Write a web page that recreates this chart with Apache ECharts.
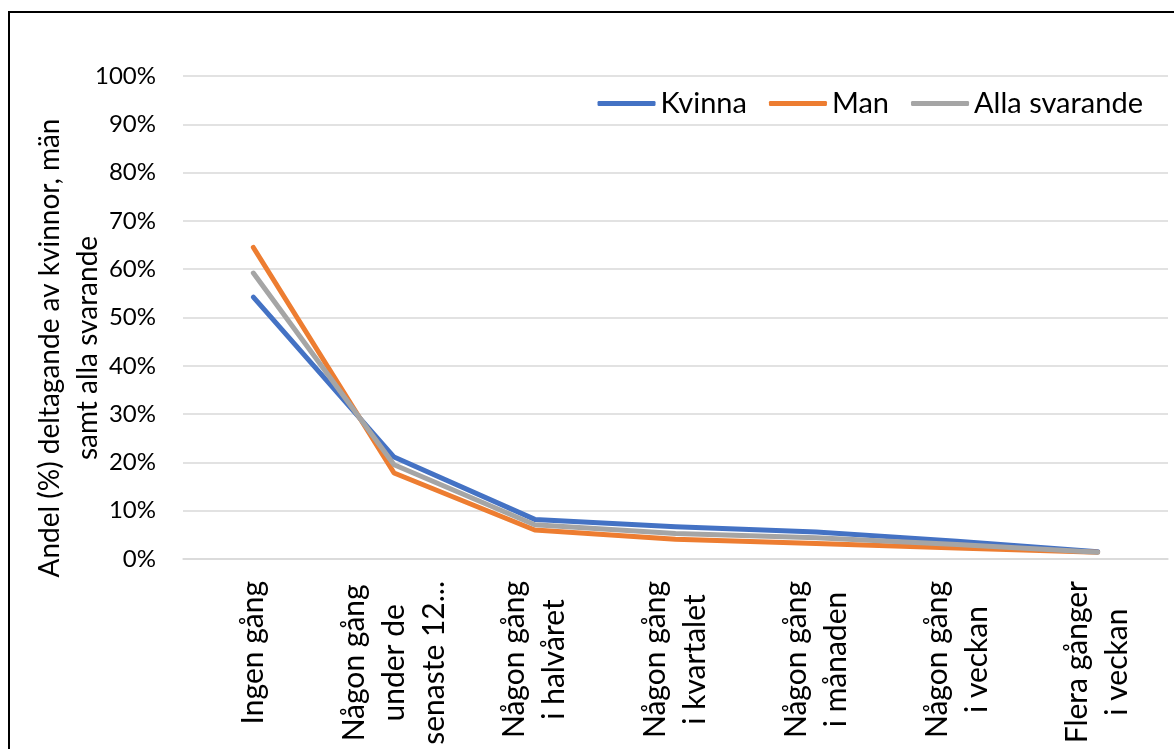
<!DOCTYPE html>
<html>
<head>
<meta charset="utf-8">
<script src="https://cdn.jsdelivr.net/npm/echarts@6/dist/echarts.min.js"></script>
<style>
html,body{margin:0;padding:0;background:#fff;}
#c{width:1174px;height:749px;}
</style>
</head>
<body>
<div id="c"></div>
<script>
const categories = [
  "Ingen gång",
  "Någon gång\nunder de\nsenaste 12...",
  "Någon gång\ni halvåret",
  "Någon gång\ni kvartalet",
  "Någon gång\ni månaden",
  "Någon gång\ni veckan",
  "Flera gånger\ni veckan"
];
const kvinna = [54.2, 21.1, 8.2, 6.7, 5.6, 3.7, 1.5];
const man    = [64.5, 17.8, 6.0, 4.1, 3.2, 2.3, 1.4];
const alla   = [59.2, 19.5, 7.1, 5.3, 4.4, 3.0, 1.4];
const seriesNames = ["Kvinna", "Man", "Alla svarande"];
const yTitle = "Andel (%) deltagande av kvinnor, män\nsamt alla svarande";

const colors = ["#4472C4", "#ED7D31", "#A5A5A5"];
const chart = echarts.init(document.getElementById('c'));
const mk = (name, data, i) => ({
  name, type: 'line', data, symbol: 'none', smooth: false,
  lineStyle: {width: 5, color: colors[i], cap: 'round', join: 'round'},
  itemStyle: {color: colors[i]},
  z: 2 + i
});
chart.setOption({
  animation: false,
  backgroundColor: '#fff',
  grid: {left: 183, right: 6, top: 76, bottom: 190, containLabel: false},
  legend: {
    data: seriesNames,
    right: 26, top: 84,
    icon: 'roundRect',
    itemWidth: 58, itemHeight: 5, itemGap: 22,
    textStyle: {fontFamily: 'Lato', fontSize: 29, color: '#000'}
  },
  xAxis: {
    type: 'category', data: categories, boundaryGap: true,
    axisLine: {show: true, lineStyle: {color: '#d9d9d9', width: 1.5}},
    axisTick: {show: false},
    axisLabel: {
      interval: 0, rotate: 90, margin: 22,
      fontFamily: 'Lato', fontSize: 30, color: '#000',
      formatter: v => v.split('\n').map(l => '{c|' + l + '}').join('\n'),
      rich: {c: {align: 'center', fontFamily: 'Lato', fontSize: 30, lineHeight: 40, color: '#000'}}
    }
  },
  yAxis: {
    type: 'value', min: 0, max: 100, interval: 10,
    axisLine: {show: false}, axisTick: {show: false},
    splitLine: {lineStyle: {color: '#d9d9d9', width: 1.5}},
    axisLabel: {formatter: '{value}%', margin: 27, fontFamily: 'Lato', fontSize: 24, color: '#000'}
  },
  graphic: [
    {type: 'rect', shape: {x: 9, y: 12, width: 1300, height: 900}, style: {fill: 'none', stroke: '#000', lineWidth: 2}, silent: true, z: 100},
    {type: 'text', x: 69, y: 348, rotation: Math.PI / 2,
     style: {text: yTitle, fontFamily: 'Lato', fontSize: 28, lineHeight: 38, fill: '#000', textAlign: 'center', textVerticalAlign: 'middle', align: 'center', verticalAlign: 'middle'}}
  ],
  series: [mk(seriesNames[0], kvinna, 0), mk(seriesNames[1], man, 1), mk(seriesNames[2], alla, 2)]
});
</script>
</body>
</html>
